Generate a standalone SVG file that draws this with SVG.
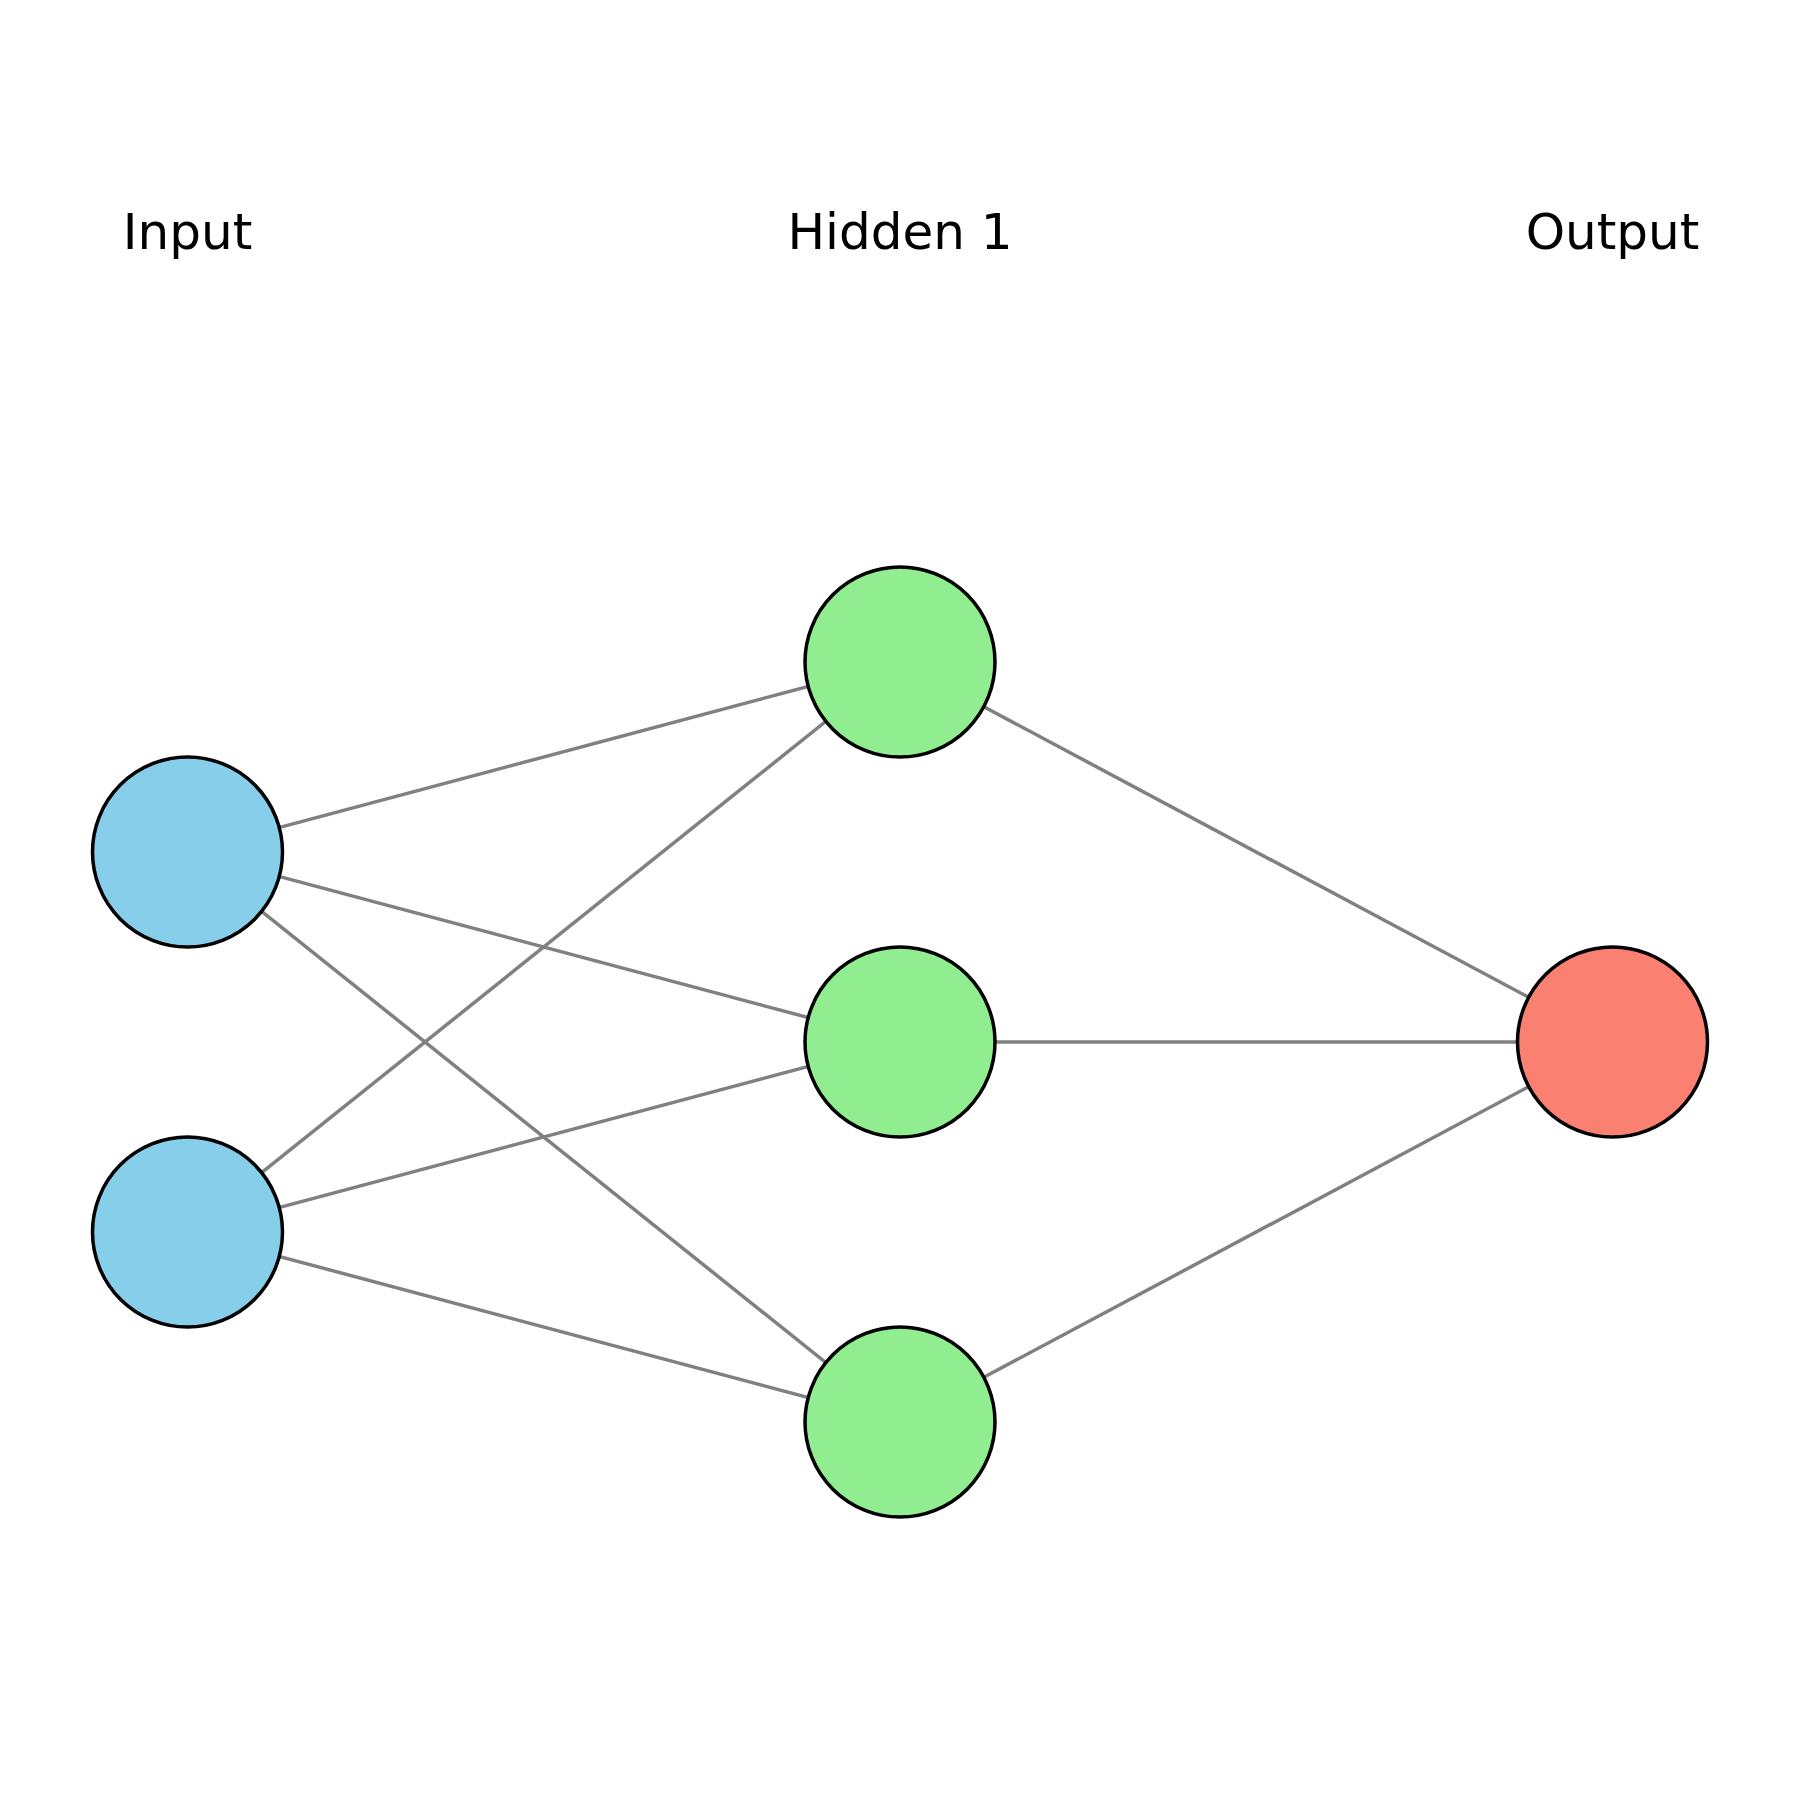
<svg xmlns="http://www.w3.org/2000/svg" width="1800" height="1800" viewBox="0 0 1800 1800">
<style>
.edge{stroke:#808080;stroke-width:3.5;fill:none}
.node{stroke:#000;stroke-width:3.5}
.in{fill:#87CEEB}
.hid{fill:#90EE90}
.out{fill:#FA8072}
.lbl{font-family:"DejaVu Sans",sans-serif;font-size:50px;fill:#000;text-anchor:middle}
</style>
<rect width="1800" height="1800" fill="#fff"/>
<g id="labels">
<text class="lbl" x="187.5" y="249">Input</text>
<text class="lbl" x="900" y="249">Hidden 1</text>
<text class="lbl" x="1612.5" y="249">Output</text>
</g>
<g id="connectors">
<line class="edge" x1="187.5" y1="852" x2="900" y2="662"/>
<line class="edge" x1="187.5" y1="852" x2="900" y2="1042"/>
<line class="edge" x1="187.5" y1="852" x2="900" y2="1422"/>
<line class="edge" x1="187.5" y1="1232" x2="900" y2="662"/>
<line class="edge" x1="187.5" y1="1232" x2="900" y2="1042"/>
<line class="edge" x1="187.5" y1="1232" x2="900" y2="1422"/>
<line class="edge" x1="900" y1="662" x2="1612.5" y2="1042"/>
<line class="edge" x1="900" y1="1042" x2="1612.5" y2="1042"/>
<line class="edge" x1="900" y1="1422" x2="1612.5" y2="1042"/>
</g>
<g id="input1"><circle class="node in" cx="187.5" cy="852" r="95"/></g>
<g id="input2"><circle class="node in" cx="187.5" cy="1232" r="95"/></g>
<g id="hidden1"><circle class="node hid" cx="900" cy="662" r="95"/></g>
<g id="hidden2"><circle class="node hid" cx="900" cy="1042" r="95"/></g>
<g id="hidden3"><circle class="node hid" cx="900" cy="1422" r="95"/></g>
<g id="output1"><circle class="node out" cx="1612.5" cy="1042" r="95"/></g>
</svg>
